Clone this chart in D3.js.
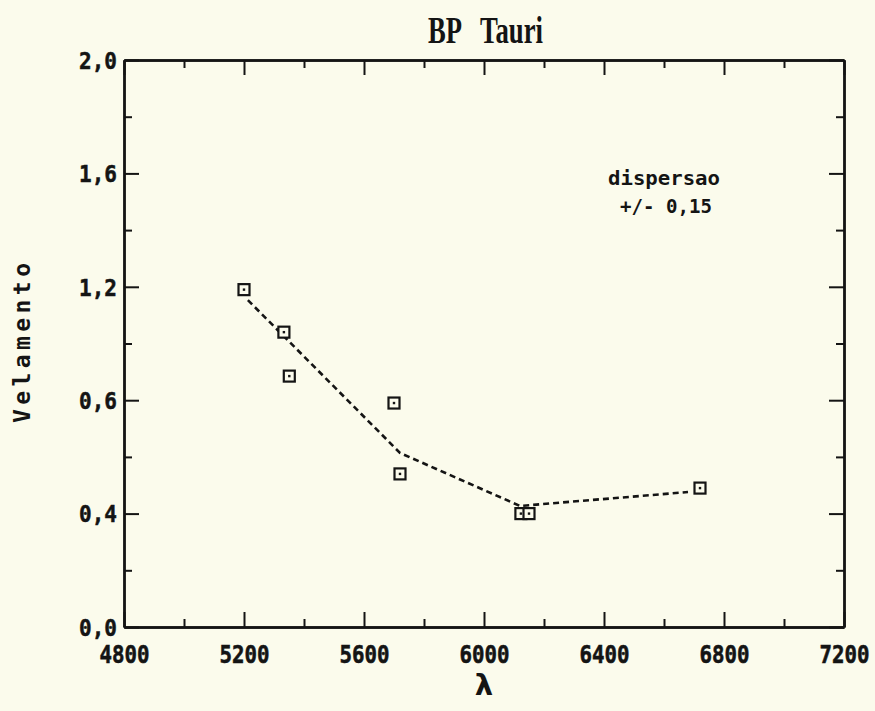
<!DOCTYPE html>
<html>
<head>
<meta charset="utf-8">
<script src="https://cdn.jsdelivr.net/npm/d3@7"></script>
<style>
  html, body { margin: 0; padding: 0; background: #fbfbec; }
  svg { display: block; }
</style>
</head>
<body>
<svg id="chart" width="875" height="711"></svg>
<script>
// Observed veiling (velamento) versus wavelength for BP Tauri
const lambdaObs   = [5200, 5333, 5351, 5700, 5720, 6123, 6150, 6720];
const velamentObs = [1.19, 1.04, 0.885, 0.79, 0.54, 0.40, 0.40, 0.49];

// Dashed trend line through the observations
const fitLambda = [5213, 5720, 6120, 6680];
const fitValue  = [1.153, 0.614, 0.427, 0.476];

// Axis ticks and their printed labels
const xMajor = [4800, 5200, 5600, 6000, 6400, 6800, 7200];
const xMinor = [5000, 5400, 5800, 6200, 6600, 7000];
const xTickLabels = ["4800", "5200", "5600", "6000", "6400", "6800", "7200"];
const yMajor = [0.0, 0.4, 0.8, 1.2, 1.6, 2.0];
const yMinor = [0.2, 0.6, 1.0, 1.4, 1.8];
const yTickLabels = ["0,0", "0,4", "0,6", "1,2", "1,6", "2,0"];

const title = ["BP", "Tauri"];
const xTitle = "\u03BB";
const yTitle = "Velamento";
const note = ["dispersao", "+/- 0,15"];

const ink = "#141414";
const paper = "#fbfbec";
const mono = "'DejaVu Sans Mono', 'Liberation Mono', monospace";

const svg = d3.select("#chart");
const x = d3.scaleLinear().domain([4800, 7200]).range([124, 844]);
const y = d3.scaleLinear().domain([0, 2]).range([627, 60]);

const [x0, x1] = x.range();
const [y0, y1] = y.range();

function styleAxis(g) {
  g.select(".domain").attr("stroke", ink).attr("stroke-width", 2.4);
  g.selectAll(".tick line").attr("stroke", ink).attr("stroke-width", 2);
}

// Major and minor ticks on all four sides, pointing inward
function drawAxis(axisFn, scale, translate, major, minor, labels) {
  const gMinor = svg.append("g").attr("transform", translate)
    .call(axisFn(scale).tickValues(minor).tickSize(-8).tickSizeOuter(0).tickFormat(""));
  styleAxis(gMinor);
  const gMajor = svg.append("g").attr("transform", translate)
    .call(axisFn(scale).tickValues(major).tickSize(-15).tickSizeOuter(0)
      .tickPadding(axisFn === d3.axisBottom ? 18 : 7)
      .tickFormat(labels ? (d, i) => labels[i] : ""));
  styleAxis(gMajor);
  return gMajor;
}

const gBottom = drawAxis(d3.axisBottom, x, `translate(0,${y0})`, xMajor, xMinor, xTickLabels);
drawAxis(d3.axisTop, x, `translate(0,${y1})`, xMajor, xMinor, null);
const gLeft = drawAxis(d3.axisLeft, y, `translate(${x0},0)`, yMajor, yMinor, yTickLabels);
drawAxis(d3.axisRight, y, `translate(${x1},0)`, yMajor, yMinor, null);

// Tall, narrow plotter digits: a smaller font stretched vertically
gBottom.selectAll(".tick text")
  .attr("fill", ink)
  .attr("font-family", mono)
  .attr("font-weight", "bold")
  .attr("font-size", 21)
  .attr("y", 18 / 1.22)
  .attr("transform", "scale(1,1.22)")
  .attr("textLength", 50)
  .attr("lengthAdjust", "spacingAndGlyphs")
  .attr("stroke", ink).attr("stroke-width", 0.5);

gLeft.selectAll(".tick text")
  .attr("fill", ink)
  .attr("font-family", mono)
  .attr("font-weight", "bold")
  .attr("font-size", 23)
  .attr("dy", "0.36em")
  .attr("textLength", 38)
  .attr("lengthAdjust", "spacingAndGlyphs")
  .attr("stroke", ink).attr("stroke-width", 0.5);

// Trend line
const line = d3.line().x(d => x(d[0])).y(d => y(d[1]));
svg.append("path")
  .datum(d3.zip(fitLambda, fitValue))
  .attr("d", line)
  .attr("fill", "none")
  .attr("stroke", ink)
  .attr("stroke-width", 2.6)
  .attr("stroke-dasharray", "6,4");

// Open square markers with a centre dot
const pts = d3.zip(lambdaObs, velamentObs);
const s = 11;
const mk = svg.append("g").selectAll("g").data(pts).join("g")
  .attr("transform", d => `translate(${x(d[0])},${y(d[1])})`);
mk.append("rect")
  .attr("x", -s / 2).attr("y", -s / 2).attr("width", s).attr("height", s)
  .attr("fill", paper).attr("stroke", ink).attr("stroke-width", 2.2);
mk.append("rect")
  .attr("x", -1.2).attr("y", -1.2).attr("width", 2.4).attr("height", 2.4)
  .attr("fill", ink);

// Title, with the wide gap of the plotter lettering
const titleFont = "'Liberation Serif', 'DejaVu Serif', serif";
svg.append("text")
  .attr("x", 428).attr("y", 43)
  .attr("font-family", titleFont)
  .attr("font-weight", "bold")
  .attr("font-size", 38)
  .attr("textLength", 34)
  .attr("lengthAdjust", "spacingAndGlyphs")
  .attr("fill", ink)
  .text(title[0]);
svg.append("text")
  .attr("x", 480).attr("y", 43)
  .attr("font-family", titleFont)
  .attr("font-weight", "bold")
  .attr("font-size", 38)
  .attr("textLength", 63)
  .attr("lengthAdjust", "spacingAndGlyphs")
  .attr("fill", ink)
  .text(title[1]);

// Axis titles
svg.append("text")
  .attr("x", (x0 + x1) / 2).attr("y", 695)
  .attr("text-anchor", "middle")
  .attr("font-family", "'DejaVu Sans', sans-serif")
  .attr("font-weight", "bold")
  .attr("font-size", 29)
  .attr("fill", ink)
  .text(xTitle);

svg.append("text")
  .attr("transform", "translate(30,343) rotate(-90)")
  .attr("text-anchor", "middle")
  .attr("font-family", mono)
  .attr("font-weight", "bold")
  .attr("font-size", 23)
  .attr("textLength", 160)
  .attr("lengthAdjust", "spacing")
  .attr("fill", ink)
  .text(yTitle);

// Dispersion note
svg.append("text")
  .attr("x", x(6600)).attr("y", 185)
  .attr("text-anchor", "middle")
  .attr("font-family", mono)
  .attr("font-weight", "bold")
  .attr("font-size", 19)
  .attr("textLength", 112)
  .attr("lengthAdjust", "spacingAndGlyphs")
  .attr("fill", ink)
  .text(note[0]);

svg.append("text")
  .attr("x", x(6607)).attr("y", 213)
  .attr("text-anchor", "middle")
  .attr("font-family", mono)
  .attr("font-weight", "bold")
  .attr("font-size", 19)
  .attr("textLength", 92)
  .attr("lengthAdjust", "spacingAndGlyphs")
  .attr("fill", ink)
  .text(note[1]);
</script>
</body>
</html>
